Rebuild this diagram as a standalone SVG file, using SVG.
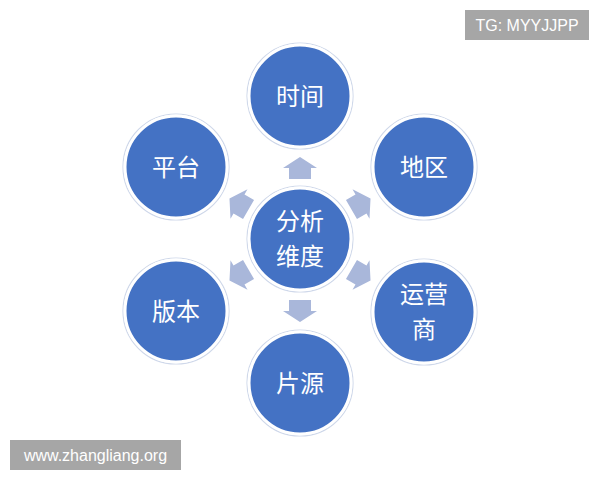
<svg xmlns="http://www.w3.org/2000/svg" width="600" height="480" viewBox="0 0 600 480">
<defs>
<style>
.c{fill:#4472c4;stroke:#ffffff;stroke-width:3}
.o{fill:none;stroke:#cfd8ea;stroke-width:1.2}
.t{fill:#ffffff;font-family:"Noto Sans CJK SC","Noto Sans",sans-serif;font-size:24px;text-anchor:middle}
.a{fill:#a9b7da}
.wm{fill:#a6a6a6}
.wt{fill:#ffffff;font-family:"Liberation Sans",Arial,sans-serif;font-size:16px;text-anchor:middle}
</style>
<polygon id="arr" points="-11,-11 0,-11 0,-17 11,0 0,17 0,11 -11,11"/>
</defs>
<rect width="600" height="480" fill="#ffffff"/>
<g id="connectors">
<use href="#arr" class="a" transform="translate(300,168) rotate(-90)"/>
<use href="#arr" class="a" transform="translate(300,311) rotate(90)"/>
<use href="#arr" class="a" transform="translate(239,204) rotate(-150)"/>
<use href="#arr" class="a" transform="translate(361,204) rotate(-30)"/>
<use href="#arr" class="a" transform="translate(239,275) rotate(150)"/>
<use href="#arr" class="a" transform="translate(361,275) rotate(30)"/>
</g>
<g id="center">
<circle cx="300" cy="239" r="53" class="o"/>
<circle cx="300" cy="239" r="51" class="c"/>
<text x="300" y="230" class="t">分析</text>
<text x="300" y="265" class="t">维度</text>
</g>
<g id="n-time">
<circle cx="300" cy="96" r="53" class="o"/>
<circle cx="300" cy="96" r="51" class="c"/>
<text x="300" y="105" class="t">时间</text>
</g>
<g id="n-platform">
<circle cx="176" cy="167" r="53" class="o"/>
<circle cx="176" cy="167" r="51" class="c"/>
<text x="176" y="176" class="t">平台</text>
</g>
<g id="n-region">
<circle cx="424" cy="167" r="53" class="o"/>
<circle cx="424" cy="167" r="51" class="c"/>
<text x="424" y="176" class="t">地区</text>
</g>
<g id="n-version">
<circle cx="176" cy="311" r="53" class="o"/>
<circle cx="176" cy="311" r="51" class="c"/>
<text x="176" y="320" class="t">版本</text>
</g>
<g id="n-operator">
<circle cx="424" cy="312" r="53" class="o"/>
<circle cx="424" cy="312" r="51" class="c"/>
<text x="424" y="303" class="t">运营</text>
<text x="424" y="338" class="t">商</text>
</g>
<g id="n-source">
<circle cx="300" cy="383" r="53" class="o"/>
<circle cx="300" cy="383" r="51" class="c"/>
<text x="300" y="392" class="t">片源</text>
</g>
<g id="wm-top">
<rect x="465" y="10" width="124" height="30" class="wm"/>
<text x="527" y="31" class="wt">TG: MYYJJPP</text>
</g>
<g id="wm-bottom">
<rect x="10" y="440" width="171" height="30" class="wm"/>
<text x="95.5" y="461" class="wt">www.zhangliang.org</text>
</g>
</svg>
